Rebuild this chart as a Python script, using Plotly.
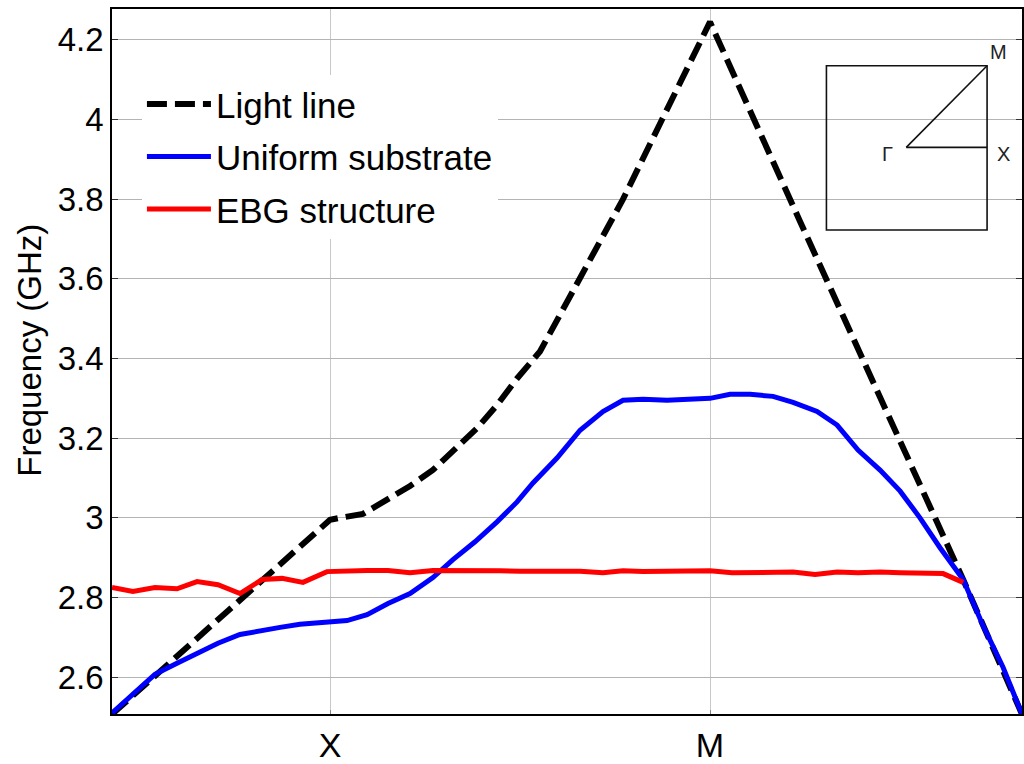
import plotly.graph_objects as go

# Path positions along Γ-X-M-Γ (Γ=0, X=1)
K_X = 1.0
K_M = 2.743
K_END = 4.174
tick_vals = [K_X, K_M]
tick_text = ["X", "M"]

light_k = [0.0, 0.197, 0.587, 1.0, 1.046, 1.151, 1.275, 1.367, 1.472, 1.583, 1.674,
           1.766, 1.858, 1.963, 2.147, 2.344, 2.523, 2.697, 2.743, 3.156, 3.606, 3.904, 4.174]
light_f = [2.507, 2.603, 2.795, 2.995, 3.0, 3.01, 3.05, 3.08, 3.12, 3.175, 3.225,
           3.283, 3.35, 3.4175, 3.605, 3.80, 4.0, 4.2, 4.245, 3.744, 3.2, 2.845, 2.507]

uniform_k = [0.0, 0.106, 0.197, 0.298, 0.390, 0.486, 0.587, 0.679, 0.771, 0.862, 1.0,
             1.078, 1.170, 1.266, 1.367, 1.472, 1.564, 1.665, 1.766, 1.858, 1.931, 2.041,
             2.147, 2.252, 2.344, 2.436, 2.546, 2.638, 2.743, 2.835, 2.927, 3.032, 3.124,
             3.234, 3.326, 3.422, 3.523, 3.615, 3.706, 3.798, 3.904, 3.995, 4.087, 4.174]
uniform_f = [2.51, 2.56, 2.607, 2.635, 2.66, 2.685, 2.707, 2.717, 2.725, 2.733, 2.738,
             2.742, 2.757, 2.785, 2.81, 2.85, 2.895, 2.94, 2.99, 3.04, 3.0875, 3.15,
             3.22, 3.267, 3.295, 3.298, 3.295, 3.298, 3.30, 3.31, 3.31, 3.305, 3.29,
             3.267, 3.233, 3.17, 3.12, 3.067, 3.0, 2.925, 2.845, 2.73, 2.625, 2.507]

ebg_k = [0.0, 0.096, 0.197, 0.298, 0.390, 0.486, 0.587, 0.688, 0.780, 0.876, 0.986,
         1.078, 1.170, 1.266, 1.367, 1.472, 1.564, 1.656, 1.780, 1.872, 1.963, 2.055,
         2.147, 2.252, 2.344, 2.436, 2.546, 2.651, 2.743, 2.844, 2.936, 3.032, 3.124,
         3.225, 3.326, 3.422, 3.523, 3.615, 3.706, 3.812, 3.904]
ebg_f = [2.825, 2.815, 2.825, 2.822, 2.84, 2.832, 2.81, 2.845, 2.848, 2.838, 2.865,
         2.868, 2.868, 2.868, 2.862, 2.868, 2.868, 2.87, 2.867, 2.866, 2.866, 2.866,
         2.866, 2.862, 2.867, 2.865, 2.865, 2.867, 2.867, 2.862, 2.862, 2.862, 2.864,
         2.858, 2.864, 2.862, 2.864, 2.862, 2.860, 2.860, 2.838]

Y_RANGE = [2.5075, 4.2775]
y_ticks = [2.6, 2.8, 3.0, 3.2, 3.4, 3.6, 3.8, 4.0, 4.2]
y_text = ["2.6", "2.8", "3", "3.2", "3.4", "3.6", "3.8", "4", "4.2"]

FONT = "Liberation Sans, Arial, sans-serif"
W, H = 1024, 764
ML, MR, MT, MB = 112, 0, 9, 47
PW, PH = W - ML - MR, H - MT - MB

def px(x):
    return (x - ML) / PW

def py(y):
    return (H - MB - y) / PH

fig = go.Figure()
fig.add_trace(go.Scatter(x=light_k, y=light_f, mode="lines", name="Light line",
                         legendgroup="a",
                         line=dict(color="black", width=6, dash="20px,8px")))
fig.add_trace(go.Scatter(x=uniform_k, y=uniform_f, mode="lines", name="Uniform substrate",
                         legendgroup="b",
                         line=dict(color="#0000ff", width=5)))
fig.add_trace(go.Scatter(x=ebg_k, y=ebg_f, mode="lines", name="EBG structure",
                         legendgroup="c",
                         line=dict(color="#ff0000", width=5)))

# Brillouin-zone inset (decoration)
shapes = [
    dict(type="rect", xref="paper", yref="paper", x0=px(828), x1=px(989), y0=py(231), y1=py(66),
         line=dict(color="#111", width=1.6)),
    dict(type="line", xref="paper", yref="paper", x0=px(908), x1=px(989), y0=py(148), y1=py(66),
         line=dict(color="#111", width=1.6)),
    dict(type="line", xref="paper", yref="paper", x0=px(908), x1=px(989), y0=py(148), y1=py(148),
         line=dict(color="#111", width=1.6)),
]
lab = dict(size=20, color="#222", family=FONT)
annotations = [
    dict(text="M", xref="paper", yref="paper", x=px(1000), y=py(52), showarrow=False,
         xanchor="center", yanchor="middle", font=lab),
    dict(text="X", xref="paper", yref="paper", x=px(1005), y=py(155), showarrow=False,
         xanchor="center", yanchor="middle", font=lab),
    dict(text="Γ", xref="paper", yref="paper", x=px(889), y=py(155), showarrow=False,
         xanchor="center", yanchor="middle", font=lab),
    dict(text="Frequency (GHz)", xref="paper", yref="paper", x=px(29), y=py(352),
         textangle=-90, showarrow=False, xanchor="center", yanchor="middle",
         font=dict(size=33, color="black", family=FONT)),
]

fig.update_layout(
    width=W, height=H,
    margin=dict(l=ML, r=MR, t=MT, b=MB),
    paper_bgcolor="white", plot_bgcolor="white",
    font=dict(family=FONT, color="black"),
    shapes=shapes, annotations=annotations,
    legend=dict(x=px(142), y=py(75), xanchor="left", yanchor="top",
                bgcolor="white", borderwidth=0, tracegroupgap=4,
                itemwidth=64, font=dict(size=35, family=FONT, color="black")),
    xaxis=dict(range=[0, K_END], tickvals=tick_vals, ticktext=tick_text,
               showgrid=True, gridcolor="#c8c8c8", gridwidth=1,
               showline=True, linecolor="black", linewidth=1.5, mirror=True,
               ticks="inside", ticklen=4, tickcolor="#888", zeroline=False,
               tickfont=dict(size=34, family=FONT, color="black")),
    yaxis=dict(range=Y_RANGE, tickvals=y_ticks, ticktext=y_text,
               showgrid=True, gridcolor="#b4b4b4", gridwidth=1,
               showline=True, linecolor="black", linewidth=1.5, mirror="ticks",
               ticks="inside", ticklen=6, tickcolor="#333", zeroline=False,
               tickfont=dict(size=33, family=FONT, color="black")),
)

fig.write_html("out.html")
